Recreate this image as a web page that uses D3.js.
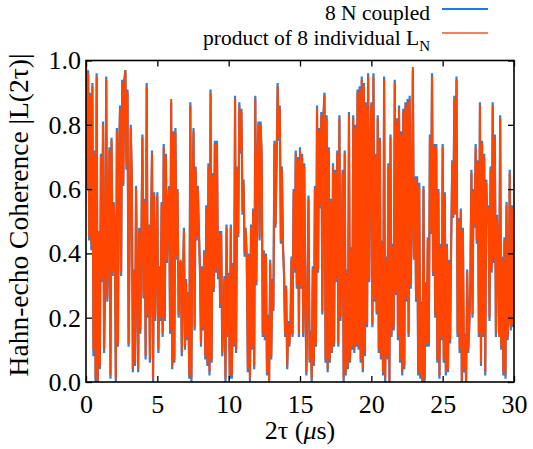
<!DOCTYPE html>
<html>
<head>
<meta charset="utf-8">
<script src="https://cdn.jsdelivr.net/npm/d3@7"></script>
<style>
  html, body { margin: 0; padding: 0; background: #fff; }
  svg { display: block; }
  text { font-family: "Liberation Serif", "Times New Roman", serif; fill: #000; }
</style>
</head>
<body>
<svg id="chart" width="533" height="449"></svg>
<script>
// ---------------- data ----------------
const xTicks = [0, 5, 10, 15, 20, 25, 30];
const yTicks = [0.0, 0.2, 0.4, 0.6, 0.8, 1.0];
const xDomain = [0, 30];
const yDomain = [0, 1];
const seriesNames = ["8 N coupled", "product of 8 individual L"];

// 8 N coupled (blue), sampled uniformly over 0..30 µs
const coupled = [
  1.00,0.60,0.97,0.44,0.90,0.41,0.93,0.08,0.72,0.00,
  0.96,0.00,0.46,0.04,0.71,0.31,0.81,0.09,0.32,0.95,
  0.25,0.41,0.73,0.01,0.76,0.33,0.56,0.46,0.00,0.79,
  0.11,0.71,0.86,0.33,0.94,0.61,0.94,0.97,0.66,0.91,
  0.11,0.44,0.80,0.64,0.03,0.35,0.05,0.61,0.29,0.03,
  0.48,0.15,0.44,0.77,0.26,0.57,0.07,0.93,0.20,0.49,
  0.06,0.48,0.72,0.00,0.59,0.19,0.36,
  0.59,0.09,0.36,0.19,0.56,0.14,0.74,0.19,0.71,0.37,
  0.53,0.61,0.15,0.87,0.04,0.78,0.06,0.79,0.38,0.60,
  0.20,0.37,0.37,0.08,0.32,0.48,0.10,0.32,0.13,0.28,
  0.01,0.87,0.00,0.56,0.79,0.16,0.67,0.44,0.61,0.47,
  0.36,0.11,0.36,0.16,0.41,0.07,0.55,0.05,0.68,0.02,
  0.91,0.06,0.65,0.28,0.75,0.34,0.75,0.32,0.47,0.23,
  0.47,0.08,0.19,0.33,0.00,0.49,0.14,
  0.34,0.01,0.49,0.01,0.37,0.11,0.89,0.09,0.67,0.45,
  0.87,0.71,0.85,0.52,0.63,0.39,0.48,0.38,0.03,0.40,
  0.00,0.49,0.10,0.54,0.04,0.89,0.30,0.69,0.81,0.44,
  0.81,0.70,0.14,0.41,0.13,0.40,0.02,0.21,0.00,0.38,
  0.07,0.32,0.22,0.75,0.48,0.68,0.93,0.75,0.86,0.43,
  0.67,0.42,0.34,0.14,0.30,0.04,0.19,0.11,0.17,0.39,
  0.14,0.60,0.34,0.72,0.29,0.70,0.14,
  0.73,0.29,0.71,0.14,0.68,0.27,0.02,0.29,0.58,0.06,
  0.16,0.00,0.36,0.05,0.61,0.11,0.86,0.34,0.79,0.54,
  0.84,0.21,0.83,0.90,0.06,0.83,0.03,0.73,0.06,0.57,
  0.09,0.68,0.11,0.66,0.31,0.72,0.11,0.83,0.19,0.32,
  0.66,0.00,0.72,0.02,0.35,0.04,0.84,0.06,0.42,0.10,
  0.83,0.09,0.80,0.11,0.91,0.10,0.92,0.06,0.95,0.03,
  0.93,0.08,0.87,0.17,0.96,0.31,0.71,
  0.87,0.17,0.96,0.25,0.71,0.21,0.83,0.09,0.76,0.07,
  0.44,0.02,0.95,0.00,0.39,0.07,0.68,0.00,0.77,0.14,
  0.43,0.16,0.94,0.27,0.82,0.13,0.86,0.06,0.78,0.02,
  0.85,0.04,0.87,0.25,0.88,0.14,0.89,0.29,0.53,0.97,
  0.39,0.64,0.25,0.64,0.02,0.62,0.01,0.25,0.00,0.61,
  0.00,0.31,0.11,0.45,0.11,0.77,0.46,0.96,0.33,0.74,
  0.20,0.74,0.06,0.60,0.01,0.43,0.13,
  0.74,0.06,0.59,0.02,0.43,0.03,0.38,0.12,0.44,0.69,
  0.51,0.89,0.53,0.95,0.14,0.51,0.09,0.54,0.00,0.48,
  0.03,0.15,0.00,0.35,0.09,0.18,0.31,0.66,0.20,0.60,
  0.48,0.74,0.43,0.69,0.14,0.87,0.05,0.75,0.14,0.71,
  0.02,0.63,0.49,0.55,0.19,0.67,0.34,0.87,0.37,0.77,
  0.14,0.52,0.42,0.15,0.83,0.10,0.39,0.02,0.45,0.01,
  0.56,0.13,0.22,0.66,0.16,0.55,0.17,0.41
];

// product of 8 individual L_N (orange)
const product = [
  1.00,0.62,0.96,0.45,0.89,0.43,0.92,0.10,0.71,0.01,
  0.95,0.00,0.47,0.05,0.70,0.32,0.80,0.10,0.33,0.94,
  0.26,0.42,0.72,0.02,0.75,0.34,0.55,0.47,0.01,0.78,
  0.12,0.70,0.85,0.34,0.93,0.62,0.93,0.97,0.67,0.90,
  0.12,0.45,0.79,0.65,0.04,0.34,0.06,0.60,0.30,0.04,
  0.47,0.16,0.43,0.76,0.27,0.56,0.08,0.92,0.21,0.48,
  0.07,0.47,0.71,0.01,0.58,0.20,0.35,
  0.58,0.10,0.35,0.20,0.55,0.15,0.73,0.20,0.70,0.38,
  0.52,0.60,0.16,0.88,0.05,0.77,0.07,0.78,0.39,0.59,
  0.21,0.36,0.38,0.09,0.31,0.47,0.11,0.31,0.14,0.27,
  0.02,0.86,0.01,0.55,0.78,0.17,0.66,0.45,0.60,0.48,
  0.35,0.12,0.35,0.17,0.40,0.08,0.54,0.06,0.67,0.03,
  0.90,0.07,0.64,0.29,0.74,0.35,0.74,0.33,0.46,0.24,
  0.46,0.09,0.18,0.32,0.01,0.48,0.15,
  0.33,0.02,0.48,0.02,0.36,0.12,0.88,0.10,0.66,0.46,
  0.86,0.72,0.84,0.53,0.62,0.40,0.47,0.39,0.04,0.39,
  0.01,0.48,0.11,0.53,0.05,0.88,0.31,0.68,0.80,0.45,
  0.80,0.71,0.15,0.40,0.14,0.39,0.03,0.20,0.00,0.37,
  0.08,0.31,0.23,0.74,0.49,0.67,0.92,0.76,0.85,0.44,
  0.66,0.43,0.33,0.15,0.29,0.05,0.18,0.12,0.16,0.38,
  0.15,0.59,0.35,0.71,0.30,0.69,0.15,
  0.72,0.30,0.70,0.15,0.67,0.28,0.03,0.28,0.57,0.07,
  0.15,0.01,0.35,0.06,0.60,0.12,0.85,0.35,0.78,0.55,
  0.83,0.22,0.82,0.89,0.07,0.82,0.04,0.72,0.07,0.56,
  0.10,0.67,0.12,0.65,0.32,0.71,0.12,0.82,0.20,0.31,
  0.65,0.01,0.71,0.03,0.34,0.05,0.83,0.07,0.41,0.11,
  0.82,0.10,0.79,0.12,0.90,0.11,0.91,0.07,0.94,0.04,
  0.92,0.09,0.86,0.18,0.95,0.32,0.70,
  0.86,0.18,0.95,0.26,0.70,0.22,0.82,0.10,0.75,0.08,
  0.43,0.03,0.94,0.01,0.38,0.08,0.67,0.00,0.76,0.15,
  0.42,0.17,0.93,0.28,0.81,0.14,0.85,0.07,0.77,0.03,
  0.84,0.05,0.86,0.26,0.87,0.15,0.88,0.30,0.52,0.98,
  0.38,0.63,0.26,0.63,0.03,0.61,0.02,0.24,0.00,0.60,
  0.01,0.30,0.12,0.44,0.12,0.76,0.47,0.95,0.34,0.73,
  0.21,0.73,0.07,0.59,0.02,0.42,0.14,
  0.73,0.07,0.58,0.03,0.42,0.04,0.37,0.13,0.43,0.68,
  0.52,0.88,0.52,0.94,0.15,0.50,0.10,0.53,0.00,0.47,
  0.04,0.14,0.00,0.34,0.10,0.17,0.32,0.65,0.21,0.59,
  0.49,0.73,0.44,0.68,0.15,0.86,0.06,0.74,0.15,0.70,
  0.03,0.62,0.50,0.54,0.20,0.66,0.35,0.86,0.38,0.76,
  0.15,0.51,0.43,0.14,0.82,0.11,0.38,0.03,0.44,0.02,
  0.55,0.14,0.21,0.65,0.17,0.54,0.18,0.40
];

// ---------------- chart ----------------
const svg = d3.select("#chart");
const L = 86, R = 514, T = 60.5, B = 382;
const blue = "#2f7ed8", orange = "#ff4500";

const x = d3.scaleLinear().domain(xDomain).range([L, R]);
const y = d3.scaleLinear().domain(yDomain).range([B, T]);
const tOf = (arr, i) => xDomain[0] + i * (xDomain[1] - xDomain[0]) / (arr.length - 1);

svg.append("defs").append("clipPath").attr("id", "clip")
  .append("rect").attr("x", L).attr("y", T - 1).attr("width", R - L).attr("height", B - T + 2);

const line = arr => d3.line().x((d, i) => x(tOf(arr, i))).y(d => y(d))(arr);

const plot = svg.append("g").attr("clip-path", "url(#clip)");
plot.append("path").attr("d", line(coupled))
  .attr("fill", "none").attr("stroke", blue).attr("stroke-width", 2.2).attr("stroke-linejoin", "miter");
plot.append("path").attr("d", line(product))
  .attr("fill", "none").attr("stroke", orange).attr("stroke-width", 2.0).attr("stroke-linejoin", "miter");

// axes (inward ticks, mirrored)
const fontSize = 26;
const styleAxis = g => {
  g.select(".domain").remove();
  g.selectAll(".tick line").attr("stroke", "#000").attr("stroke-width", 1.3);
  g.selectAll(".tick text").attr("font-size", fontSize).attr("fill", "#000");
};
svg.append("g").attr("transform", `translate(0,${B})`)
  .call(d3.axisBottom(x).tickValues(xTicks).tickSize(-6).tickPadding(13).tickFormat(d3.format("d")))
  .call(styleAxis);
svg.append("g").attr("transform", `translate(0,${T})`)
  .call(d3.axisTop(x).tickValues(xTicks).tickSize(-6).tickFormat(""))
  .call(styleAxis);
svg.append("g").attr("transform", `translate(${L},0)`)
  .call(d3.axisLeft(y).tickValues(yTicks).tickSize(-6).tickPadding(5).tickFormat(d3.format(".1f")))
  .call(styleAxis);
svg.append("g").attr("transform", `translate(${R},0)`)
  .call(d3.axisRight(y).tickValues(yTicks).tickSize(-6).tickFormat(""))
  .call(styleAxis);

// frame
svg.append("rect").attr("x", L).attr("y", T).attr("width", R - L).attr("height", B - T)
  .attr("fill", "none").attr("stroke", "#000").attr("stroke-width", 1.6);

// axis labels
const xl = svg.append("text").attr("x", (L + R) / 2).attr("y", 439)
  .attr("text-anchor", "middle").attr("font-size", fontSize);
xl.append("tspan").text("2τ (");
xl.append("tspan").attr("font-style", "italic").text("μ");
xl.append("tspan").text("s)");

svg.append("text").attr("transform", "translate(28,215) rotate(-90)")
  .attr("text-anchor", "middle").attr("font-size", 27.5)
  .text("Hahn-echo Coherence |L(2τ)|");

// legend
const lg = svg.append("g");
lg.append("text").attr("x", 430).attr("y", 20).attr("text-anchor", "end")
  .attr("font-size", 21.5).text(seriesNames[0]);
lg.append("line").attr("x1", 442).attr("x2", 488).attr("y1", 9).attr("y2", 9)
  .attr("stroke", "#1c7ce6").attr("stroke-width", 2);
const t2 = lg.append("text").attr("x", 430).attr("y", 45).attr("text-anchor", "end")
  .attr("font-size", 21.5);
t2.append("tspan").text(seriesNames[1]);
t2.append("tspan").attr("font-size", 15).attr("dy", 6).text("N");
lg.append("line").attr("x1", 442).attr("x2", 488).attr("y1", 33).attr("y2", 33)
  .attr("stroke", "#f3825a").attr("stroke-width", 2);
</script>
</body>
</html>
